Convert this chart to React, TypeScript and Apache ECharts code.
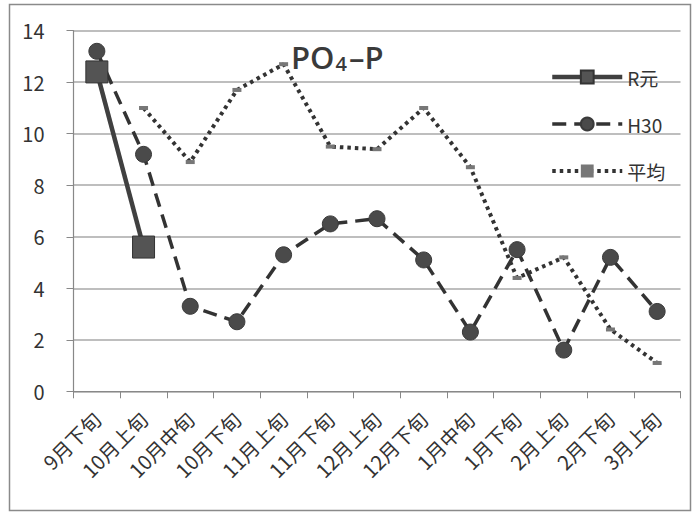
import React, { useEffect, useRef } from "react";
import * as echarts from "echarts";

const categories = ["9月下旬", "10月上旬", "10月中旬", "10月下旬", "11月上旬", "11月下旬", "12月上旬", "12月下旬", "1月中旬", "1月下旬", "2月上旬", "2月下旬", "3月上旬"];
const rGen: (number | string)[] = [12.4, 5.6, "-", "-", "-", "-", "-", "-", "-", "-", "-", "-", "-"];
const h30: number[] = [13.2, 9.2, 3.3, 2.7, 5.3, 6.5, 6.7, 5.1, 2.3, 5.5, 1.6, 5.2, 3.1];
const avg: (number | string)[] = ["-", 11.0, 8.9, 11.7, 12.7, 9.5, 9.4, 11.0, 8.7, 4.4, 5.2, 2.4, 1.1];
const yTicks = { min: 0, max: 14, interval: 2 };

const FONT = "'Noto Sans CJK JP', 'Noto Sans', sans-serif";
const TITLE_FONT = "'Open Sans', 'Liberation Sans', sans-serif";

export default function App() {
  const ref = useRef<HTMLDivElement>(null);
  useEffect(() => {
    if (!ref.current) return;
    const chart = echarts.init(ref.current, null, { renderer: "svg" });
    chart.setOption({
      animation: false,
      backgroundColor: "#ffffff",
      textStyle: { fontFamily: FONT },
      graphic: [
        {
          type: "rect",
          shape: { x: 9.5, y: 4.5, width: 681, height: 506 },
          style: { fill: "none", stroke: "#8a8a8a", lineWidth: 1.5 },
          silent: true,
        },
      ],
      title: {
        text: "{a|PO}{b|4}{a|–P}",
        left: 286,
        top: 34,
        textStyle: {
          rich: {
            a: { fontSize: 31, fontWeight: 600, color: "#3a3a3a", fontFamily: TITLE_FONT, lineHeight: 36 },
            b: { fontSize: 20, fontWeight: 600, color: "#3a3a3a", fontFamily: TITLE_FONT, padding: [13, 2, 0, 1], lineHeight: 20 },
          },
        },
      },
      legend: {
        orient: "vertical",
        left: 545,
        top: 62,
        itemWidth: 70,
        itemHeight: 16,
        itemGap: 27,
        lineStyle: { width: "inherit" },
        textStyle: { fontSize: 19, color: "#333", fontFamily: FONT, lineHeight: 20 },
        data: ["R元", "H30", "平均"],
      },
      grid: { left: 73.5, right: 15.5, top: 30.7, bottom: 126.7, containLabel: false },
      xAxis: {
        type: "category",
        data: categories,
        boundaryGap: true,
        axisLine: { lineStyle: { color: "#888", width: 1.2 } },
        axisTick: { show: true, length: 7, lineStyle: { color: "#888" } },
        axisLabel: { rotate: 45, fontSize: 20, color: "#333", margin: 24, interval: 0, fontFamily: FONT },
      },
      yAxis: {
        type: "value",
        min: yTicks.min,
        max: yTicks.max,
        interval: yTicks.interval,
        axisLine: { show: true, lineStyle: { color: "#888", width: 1.2 } },
        axisTick: { show: true, length: 7, lineStyle: { color: "#888" } },
        axisLabel: { fontSize: 20, color: "#333", margin: 29, fontFamily: FONT },
        splitLine: { lineStyle: { color: "#a8a8a8", width: 1.5 } },
      },
      series: [
        {
          name: "R元",
          type: "line",
          data: rGen,
          z: 4,
          symbol: "rect",
          symbolSize: 22,
          itemStyle: { color: "#545454", borderColor: "#333", borderWidth: 1 },
          lineStyle: { color: "#404040", width: 4.5 },
        },
        {
          name: "H30",
          type: "line",
          data: h30,
          z: 3,
          symbol: "circle",
          symbolSize: 16,
          itemStyle: { color: "#4a4a4a", borderColor: "#3a3a3a", borderWidth: 1 },
          lineStyle: { color: "#333", width: 3.5, type: [14, 8] },
        },
        {
          name: "平均",
          type: "line",
          data: avg,
          z: 2,
          symbol: "rect",
          symbolSize: [9, 4],
          itemStyle: { color: "#777", borderWidth: 0 },
          lineStyle: { color: "#333", width: 4, type: [3.5, 4] },
        },
      ],
    });
    return () => chart.dispose();
  }, []);
  return (
    <div
      ref={ref}
      style={{ position: "absolute", left: 0, top: 0, width: 696, height: 518 }}
    />
  );
}
